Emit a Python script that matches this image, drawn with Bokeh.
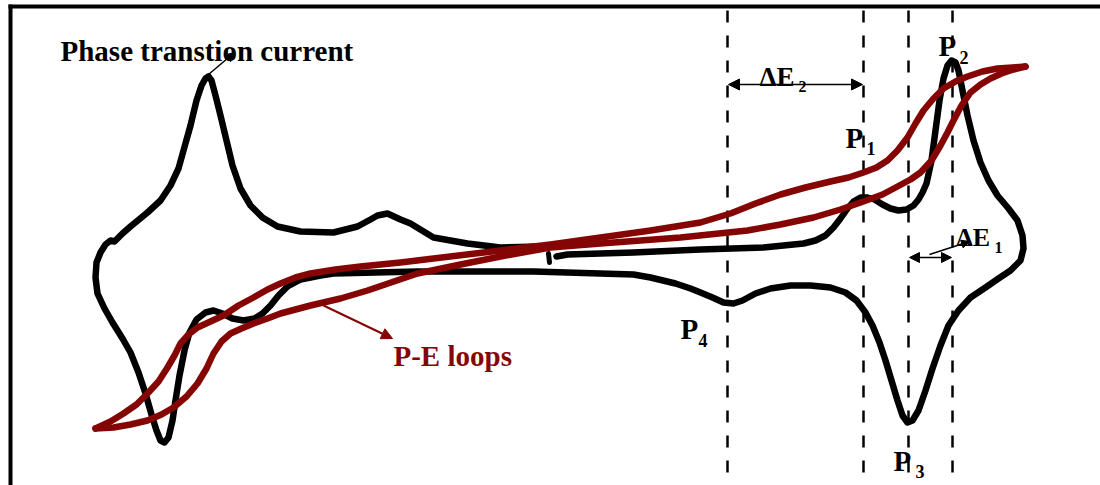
from bokeh.plotting import figure
from bokeh.models import Range1d, Label, Arrow, NormalHead, ColumnDataSource
from bokeh.embed import file_html
from bokeh.resources import INLINE

# ---- data (schematic, pixel-like units) ----
# black CV current loop (main stroke)
cv_x = [556, 567, 633, 700, 763, 803, 815, 825, 833, 840, 847, 853, 860, 867, 874, 882, 890, 898, 906, 913,
        918, 922, 926, 931, 935, 939, 943, 947, 951, 955, 958, 962, 967, 973, 980, 988, 997, 1008, 1017, 1022,
        1023, 1020, 1010, 998, 985, 970, 958, 948, 940, 932, 925, 918, 912, 907, 902, 897, 891, 885, 879, 872,
        865, 856, 845, 830, 810, 790, 770, 755, 742, 733, 723, 712, 700, 690, 675, 650, 633, 533, 417, 333,
        320, 300, 287, 278, 270, 262, 254, 243, 232, 222, 213, 205, 196, 189, 184, 179, 175, 172, 168, 164,
        160, 156, 151, 145, 138, 130, 122, 112, 104, 97, 95, 96, 100, 105, 110, 114, 117, 122, 130, 147,
        160, 170, 178, 183, 190, 196, 201, 205, 208, 211, 215, 220, 226, 232, 240, 250, 262, 277, 300, 333,
        357, 370, 377, 387, 400, 410, 433, 467, 500, 540]
cv_y = [256, 254, 252, 249, 247, 243, 240, 235, 227, 218, 208, 201, 197, 197, 199, 204, 208, 210, 209, 205,
        199, 192, 183, 160, 130, 100, 78, 65, 60, 62, 70, 90, 115, 140, 162, 180, 195, 208, 220, 235,
        248, 260, 270, 278, 287, 297, 310, 325, 345, 368, 390, 410, 420, 422, 415, 400, 380, 360, 342, 325,
        312, 300, 292, 287, 285, 285, 288, 293, 300, 303, 302, 297, 292, 288, 283, 277, 274, 271, 271, 273,
        275, 279, 286, 295, 305, 313, 318, 320, 318, 313, 310, 312, 319, 332, 350, 375, 400, 420, 437, 442,
        440, 430, 414, 393, 372, 352, 338, 322, 308, 293, 277, 262, 252, 244, 240, 241, 238, 233, 226, 212,
        200, 185, 168, 150, 125, 100, 85, 78, 76, 80, 95, 115, 140, 165, 188, 205, 217, 226, 231, 232,
        226, 219, 215, 213, 219, 223, 237, 243, 247, 246]
# small detached tick of the CV trace
tick_x = [548, 549]
tick_y = [253, 262]

# P-E hysteresis loop: upper and lower branches
pe_up_x = [95, 110, 123, 136, 147, 158, 167, 174, 180, 188, 197, 210, 223, 238, 253, 267, 280, 295, 310, 335,
           360, 400, 433, 500, 550, 600, 650, 700, 730, 755, 780, 805, 830, 848, 863, 876, 887, 897, 907, 915,
           923, 933, 943, 955, 967, 982, 997, 1012, 1025]
pe_up_y = [428, 421, 413, 404, 393, 381, 367, 355, 343, 334, 327, 321, 315, 305, 297, 289, 283, 277, 273, 269,
           266, 262, 258, 250, 244, 237, 230, 222, 213, 203, 194, 187, 181, 177, 172, 167, 160, 150, 137, 123,
           110, 98, 88, 81, 76, 71, 68, 67, 66]
pe_lo_x = [95, 113, 130, 147, 161, 173, 186, 197, 206, 213, 221, 230, 241, 253, 267, 280, 295, 310, 340, 367,
           417, 460, 500, 550, 600, 680, 747, 780, 813, 840, 863, 882, 897, 910, 920, 931, 940, 947, 953, 961,
           970, 980, 990, 1001, 1013, 1025]
pe_lo_y = [428, 427, 424, 420, 414, 407, 396, 383, 368, 353, 341, 333, 328, 323, 318, 313, 309, 305, 298, 290,
           273, 264, 256, 247, 243, 237, 230, 224, 217, 209, 201, 194, 186, 179, 172, 160, 145, 132, 120, 105,
           92, 84, 78, 73, 69, 66]

# vertical guide positions (P4, P1, P3, P2)
guide_x = [727, 863, 908, 952]

W, H = 1100, 485
p = figure(width=W, height=H, output_backend="svg", toolbar_location=None,
           x_range=Range1d(0, W), y_range=Range1d(H, 0),
           min_border=0, outline_line_color=None)
p.axis.visible = False
p.grid.visible = False
p.background_fill_color = "white"
p.border_fill_color = "white"

# frame lines (left and top)
p.line([10, 10], [4, 490], line_color="black", line_width=4)
p.line([8, 1105], [6, 6], line_color="black", line_width=4)

# dashed guides
for gx in guide_x:
    p.line([gx, gx], [10, 490], line_color="black", line_width=2.5, line_dash="12 13")

RED = "#850505"
src_cv = ColumnDataSource(dict(x=cv_x, y=cv_y))
p.line("x", "y", source=src_cv, line_color="black", line_width=6.5, line_join="round", line_cap="round")
p.line(tick_x, tick_y, line_color="black", line_width=5, line_cap="round")
p.line(pe_up_x, pe_up_y, line_color=RED, line_width=6.5, line_join="round", line_cap="round")
p.line(pe_lo_x, pe_lo_y, line_color=RED, line_width=6.5, line_join="round", line_cap="round")

# arrows
p.add_layout(Arrow(x_start=208, y_start=74, x_end=234, y_end=52, line_width=1.5,
                   end=NormalHead(size=9, fill_color="black", line_color="black")))
p.add_layout(Arrow(x_start=323, y_start=305, x_end=392, y_end=338, line_width=2, line_color=RED,
                   end=NormalHead(size=11, fill_color=RED, line_color=RED)))
p.add_layout(Arrow(x_start=728, y_start=84, x_end=862, y_end=84, line_width=1.5,
                   start=NormalHead(size=11, fill_color="black", line_color="black"),
                   end=NormalHead(size=11, fill_color="black", line_color="black")))
p.add_layout(Arrow(x_start=909, y_start=257, x_end=951, y_end=257, line_width=1.5,
                   start=NormalHead(size=10, fill_color="black", line_color="black"),
                   end=NormalHead(size=10, fill_color="black", line_color="black")))
p.add_layout(Arrow(x_start=929, y_start=254, x_end=969, y_end=241, line_width=1.5,
                   end=NormalHead(size=8, fill_color="black", line_color="black")))

FONT = "Liberation Serif"


def lab(x, y, t, size, color="black"):
    p.add_layout(Label(x=x, y=y, text=t, text_font=FONT, text_font_style="bold",
                       text_font_size=f"{size}px", text_color=color, text_baseline="alphabetic",
                       text_align="left"))


lab(60, 50, "Phase transtion current", 29)
lab(393, 355, "P-E loops", 29, RED)
lab(938, 45, "P", 29); lab(959, 57, "2", 18)
lab(845, 137, "P", 29); lab(866, 148, "1", 18)
lab(893, 460, "P", 29); lab(915, 471, "3", 18)
lab(680, 328, "P", 29); lab(698, 340, "4", 18)
lab(759, 76, "ΔE", 27); lab(798, 86, "2", 16)
lab(956, 237, "ΔE", 26); lab(994, 247, "1", 16)

open("out.html", "w").write(file_html(p, INLINE))
